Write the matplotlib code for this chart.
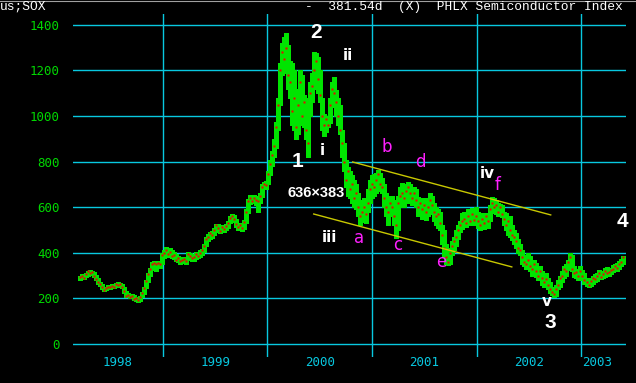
import matplotlib
matplotlib.use("Agg")
import matplotlib.pyplot as plt
import matplotlib.dates as mdates
import matplotlib.transforms as mtransforms
from matplotlib.lines import Line2D
import pandas as pd


# ========================== Data ==========================
# weekly bars of the SOX index (first week mid March 1998)
START = "1998-03-16"

close_98 = [292, 298, 290, 305, 318, 312, 314, 300, 285, 270,
            262, 248, 238, 245, 250, 248, 255, 252, 262, 258,
            262, 250, 232, 210, 214, 208, 212, 198, 200, 192,
            205, 222, 245, 275, 305, 330, 352, 355, 350, 356,
            352, 392]
high_98 = [300, 305, 300, 310, 322, 325, 320, 316, 302, 288,
           272, 265, 250, 252, 258, 256, 262, 262, 266, 270,
           268, 264, 252, 232, 222, 218, 220, 214, 206, 204,
           212, 228, 250, 280, 310, 335, 358, 362, 360, 364,
           362, 400]
low_98 = [282, 288, 284, 292, 300, 306, 302, 295, 280, 265,
          255, 242, 232, 236, 240, 240, 244, 246, 248, 252,
          250, 244, 225, 204, 205, 200, 204, 192, 190, 184,
          188, 204, 220, 244, 272, 300, 325, 338, 318, 340,
          335, 350]

close_99 = [400, 410, 395, 405, 388, 392, 370, 375, 362, 368,
            372, 365, 395, 388, 375, 380, 395, 385, 400, 412,
            430, 460, 470, 485, 478, 500, 520, 508, 495, 512,
            505, 518, 530, 552, 560, 548, 525, 512, 520, 508,
            535, 580, 625, 640, 628, 640, 632, 625, 650, 690,
            702, 695]
high_99 = [412, 425, 415, 420, 410, 405, 395, 385, 380, 378,
           382, 378, 402, 400, 395, 390, 402, 405, 410, 418,
           438, 470, 482, 492, 495, 510, 528, 525, 515, 520,
           518, 525, 540, 560, 570, 565, 550, 530, 530, 525,
           545, 590, 635, 652, 650, 655, 648, 640, 660, 700,
           712, 715]
low_99 = [378, 388, 380, 385, 378, 372, 362, 358, 352, 355,
          360, 352, 368, 375, 365, 362, 372, 375, 382, 390,
          405, 430, 452, 462, 465, 480, 495, 490, 488, 492,
          490, 498, 510, 530, 540, 535, 515, 500, 498, 495,
          505, 530, 575, 615, 618, 620, 610, 580, 620, 645,
          680, 680]

close_00 = [745, 790, 830, 870, 950, 1050, 1200, 1280, 1250, 1300,
            1180, 1150, 1020, 1080, 950, 1050, 1150, 1000, 1060, 940,
            880, 1100, 1130, 1200, 1240, 1160, 1090, 1000, 960, 985,
            960, 1050, 1120, 1100, 1060, 1000, 940, 880, 800, 720,
            760, 680, 700, 640, 660, 600, 560, 580, 600, 570,
            620, 680]
high_00 = [760, 805, 845, 900, 975, 1080, 1230, 1320, 1345, 1363,
           1310, 1240, 1230, 1200, 1100, 1120, 1200, 1180, 1090, 1080,
           1000, 1150, 1190, 1280, 1275, 1260, 1200, 1080, 1010, 1000,
           1000, 1080, 1150, 1170, 1115, 1080, 1050, 940, 880, 805,
           775, 760, 740, 720, 700, 660, 620, 630, 640, 630,
           680, 720]
low_00 = [700, 740, 780, 820, 860, 940, 1050, 1180, 1210, 1190,
          1120, 1080, 960, 940, 900, 920, 1000, 960, 950, 900,
          820, 1000, 1060, 1120, 1150, 1100, 1060, 940, 910, 930,
          950, 970, 1040, 1060, 1000, 960, 920, 820, 760, 690,
          650, 640, 620, 600, 590, 560, 520, 535, 545, 530,
          580, 620]

close_01 = [700, 690, 720, 745, 700, 690, 640, 600, 580, 620,
            600, 560, 520, 620, 650, 660, 640, 670, 690, 660,
            640, 660, 630, 600, 620, 590, 610, 580, 600, 630,
            610, 580, 560, 570, 530, 480, 420, 380, 360, 400,
            430, 450, 470, 500, 520, 540, 550, 530, 560, 540,
            570, 545]
high_01 = [740, 745, 750, 763, 750, 730, 700, 660, 630, 650,
           650, 630, 600, 650, 690, 705, 690, 700, 710, 700,
           690, 690, 680, 645, 640, 630, 640, 620, 640, 660,
           650, 620, 600, 590, 580, 520, 500, 440, 400, 420,
           450, 470, 500, 520, 540, 575, 580, 570, 590, 580,
           595, 590]
low_01 = [640, 650, 660, 690, 670, 660, 600, 560, 520, 560,
          560, 520, 465, 500, 600, 610, 600, 620, 640, 620,
          610, 615, 600, 560, 570, 550, 570, 545, 560, 580,
          570, 540, 520, 510, 500, 440, 380, 350, 346, 350,
          390, 410, 430, 460, 490, 505, 520, 515, 525, 520,
          530, 520]

close_02 = [560, 540, 520, 550, 530, 560, 540, 590, 620, 600,
            610, 580, 600, 570, 550, 520, 540, 500, 480, 470,
            450, 420, 410, 380, 360, 350, 370, 340, 330, 350,
            320, 300, 320, 290, 270, 285, 260, 240, 230, 220,
            240, 260, 290, 300, 330, 320, 360, 380, 330, 310,
            315, 300, 320, 300, 280, 270, 260, 275, 290, 285,
            300, 310, 295, 305, 320, 310, 315, 325, 330, 340,
            335, 350, 360, 380]
high_02 = [600, 580, 560, 575, 565, 575, 570, 610, 645, 640,
           630, 620, 615, 610, 580, 575, 560, 560, 520, 500,
           487, 460, 440, 410, 390, 380, 400, 385, 360, 370,
           355, 330, 340, 320, 300, 310, 290, 270, 250, 240,
           260, 280, 300, 320, 340, 350, 370, 399, 390, 340,
           330, 330, 340, 325, 310, 290, 280, 290, 300, 305,
           310, 325, 320, 320, 335, 338, 330, 335, 345, 350,
           355, 365, 372, 385]
low_02 = [530, 510, 500, 510, 505, 520, 510, 540, 580, 575,
          570, 560, 560, 555, 520, 500, 480, 470, 455, 440,
          420, 400, 390, 350, 340, 330, 340, 320, 300, 310,
          295, 280, 285, 260, 250, 255, 240, 225, 215, 206,
          210, 240, 250, 270, 290, 300, 325, 345, 320, 295,
          290, 280, 290, 280, 265, 255, 250, 255, 265, 270,
          275, 290, 285, 290, 295, 300, 300, 305, 315, 325,
          320, 330, 340, 350]

close = close_98 + close_99 + close_00 + close_01 + close_02
high = high_98 + high_99 + high_00 + high_01 + high_02
low = low_98 + low_99 + low_00 + low_01 + low_02

y_ticks = [0, 200, 400, 600, 800, 1000, 1200, 1400]
years = [1998, 1999, 2000, 2001, 2002, 2003]

# channel lines (date, price)
upper_line = [("2000-10-25", 798), ("2002-09-17", 566)]
lower_line = [("2000-06-11", 570), ("2002-05-04", 338)]

# wave labels: text, date, price (baseline)
big_text = ["2", "1", "3", "4"]
big_date = ["2000-06-18", "2000-04-16", "2002-09-14", "2003-05-27"]
big_price = [1342, 776, 70, 513]

roman_text = ["ii", "i", "iii", "iv", "v"]
roman_date = ["2000-10-08", "2000-07-12", "2000-08-06", "2002-02-09", "2002-09-03"]
roman_price = [1245, 829, 447, 728, 167]

sub_text = ["a", "b", "c", "d", "e", "f"]
sub_date = ["2000-11-15", "2001-02-21", "2001-03-31", "2001-06-20", "2001-09-01", "2002-03-16"]
sub_price = [443, 842, 412, 776, 338, 675]


# ========================== Style ==========================
GRID = "#08c8e0"
GREEN = "#00e400"
RED = "#f00000"
YEL = "#c8c800"
MAG = "#ff20ff"
YLAB = "#00d800"
MONO = "DejaVu Sans Mono"

W, H = 636, 383
PX_DAYS = 3.495  # one pixel along x, in days


def dn(s):
    return mdates.date2num(pd.Timestamp(s))


# ========================== Plot ==========================
fig = plt.figure(figsize=(W / 100, H / 100), dpi=100, facecolor="black")
ax = fig.add_axes([73 / W, 26 / H, 553 / W, 343 / H], facecolor="black")
for s in ax.spines.values():
    s.set_visible(False)

ax.set_xlim(dn("1998-02-21"), dn("2003-06-07"))
ax.set_ylim(-57, 1447)

# grid
for v in y_ticks:
    ax.axhline(v, color=GRID, lw=1.0, zorder=1)
for yr in years[1:]:
    ax.axvline(dn(f"{yr}-01-01"), color=GRID, lw=1.0, zorder=1)

# weekly bars: green high-low bar with a red close mark
dates = pd.date_range(START, periods=len(close), freq="7D")
x = mdates.date2num(dates)
ax.vlines(x, low, high, colors=GREEN, linewidth=2.2, antialiased=False, zorder=2)
ax.plot(x, close, ls="none", marker="s", ms=1.9, mfc=RED, mec="none",
        antialiased=False, zorder=3)

# channel
for ln in (upper_line, lower_line):
    ax.plot([dn(ln[0][0]), dn(ln[1][0])], [ln[0][1], ln[1][1]],
            color=YEL, lw=1.0, zorder=4)

# axes labels
ax.set_xticks([])
ax.set_yticks(y_ticks)
ax.set_yticklabels([str(v) for v in y_ticks])
ax.tick_params(axis="y", length=0, pad=9.4, labelcolor=YLAB, labelsize=9)
for lb in ax.get_yticklabels():
    lb.set_fontfamily(MONO)

trans = mtransforms.blended_transform_factory(ax.transData, fig.transFigure)
x0, x1 = ax.get_xlim()
for yr in years:
    a = max(dn(f"{yr}-01-01"), x0)
    b = min(dn(f"{yr + 1}-01-01"), x1)
    if b >= x1:
        xpos, ha = a + PX_DAYS, "left"
    else:
        xpos, ha = (a + b) / 2, "center"
    ax.text(xpos, 1 - 362 / H, str(yr), transform=trans, ha=ha,
            va="center", color=GRID, fontsize=9, family=MONO, clip_on=False)

# wave labels
for t, d, p in zip(big_text, big_date, big_price):
    ax.text(dn(d), p, t, color="white", fontsize=15, fontweight="bold",
            family="Liberation Sans", ha="center", va="baseline", zorder=6, clip_on=False)
for t, d, p in zip(roman_text, roman_date, roman_price):
    ax.text(dn(d), p, t, color="white", fontsize=11, fontweight="bold",
            family="DejaVu Sans", ha="center", va="baseline", zorder=6)
for t, d, p in zip(sub_text, sub_date, sub_price):
    ax.text(dn(d), p, t, color=MAG, fontsize=12, family="DejaVu Sans",
            ha="center", va="baseline", zorder=6)
ax.text(dn("2000-06-21"), 644, "636\u00d7383", color="white", fontsize=10.5,
        fontweight="bold", family="Liberation Sans", ha="center", va="baseline", zorder=6)

# header
fig.text(0, 1 - 7 / H, "us;SOX", color="white", fontsize=9.4, family="Liberation Mono",
         ha="left", va="center")
fig.text(305 / W, 1 - 7 / H, "-  381.54d  (X)  PHLX Semiconductor Index", color="white",
         fontsize=9.3, family="Liberation Mono", ha="left", va="center")
fig.add_artist(Line2D([0, 1], [1 - 0.5 / H, 1 - 0.5 / H], color="#a0a0a0", lw=0.8,
                      transform=fig.transFigure))

fig.savefig("out.png", dpi=100, facecolor="black")
